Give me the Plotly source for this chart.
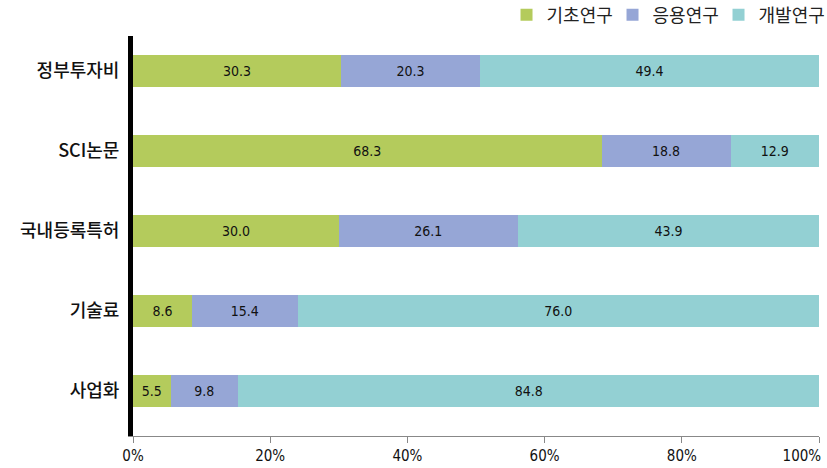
import plotly.graph_objects as go

categories = ["정부투자비", "SCI논문", "국내등록특허", "기술료", "사업화"]
series_names = ["기초연구", "응용연구", "개발연구"]
basic = [30.3, 68.3, 30.0, 8.6, 5.5]
applied = [20.3, 18.8, 26.1, 15.4, 9.8]
development = [49.4, 12.9, 43.9, 76.0, 84.8]
tick_vals = [0, 20, 40, 60, 80, 100]
tick_text = ["0%", "20%", "40%", "60%", "80%", "100%\u2007\u2007\u2007\u2007"]

colors = ["#B4CB5C", "#96A6D6", "#93D0D3"]
num_font = "Liberation Sans Narrow, DejaVu Sans Condensed, Roboto, sans-serif"

fig = go.Figure()
for name, vals, col in zip(series_names, [basic, applied, development], colors):
    fig.add_trace(go.Bar(
        y=categories, x=vals, name=name, orientation="h",
        marker=dict(color=col, line=dict(width=0)),
        text=[f"{v:.1f}" for v in vals], textposition="inside",
        insidetextanchor="middle",
        textfont=dict(family=num_font, size=14, color="#111111"),
        hoverinfo="skip",
    ))

fig.update_layout(
    barmode="stack", bargap=0.6,
    width=827, height=468,
    margin=dict(l=133, r=8, t=36, b=32, autoexpand=False),
    paper_bgcolor="white", plot_bgcolor="white",
    uniformtext=dict(minsize=8, mode="show"),
    legend=dict(orientation="h", xref="container", yref="container",
                x=0.997, xanchor="right", y=0.968, yanchor="middle",
                font=dict(family="Noto Sans CJK KR", size=18, color="#222222"),
                traceorder="normal", itemwidth=30, entrywidth=61),
    xaxis=dict(range=[0, 100], tickvals=tick_vals, ticktext=tick_text,
               automargin=False, ticklabeloverflow="allow",
               showgrid=False, zeroline=False, showline=True, linecolor="#888888",
               linewidth=1, ticks="outside", tickcolor="#888888", ticklen=6,
               tickfont=dict(family=num_font, size=15, color="#111111")),
    yaxis=dict(categoryorder="array", categoryarray=categories[::-1],
               range=[-0.5625, 4.4375], automargin=False,
               showgrid=False, zeroline=False, showline=True, linecolor="black",
               linewidth=5, ticks="", ticklabelstandoff=5,
               tickfont=dict(family="Noto Sans CJK KR", size=18, color="#111111", weight=500)),
)

fig.write_html("out.html", config={"displayModeBar": False},
               post_script="document.body.style.margin='0';document.body.style.overflow='hidden';")
